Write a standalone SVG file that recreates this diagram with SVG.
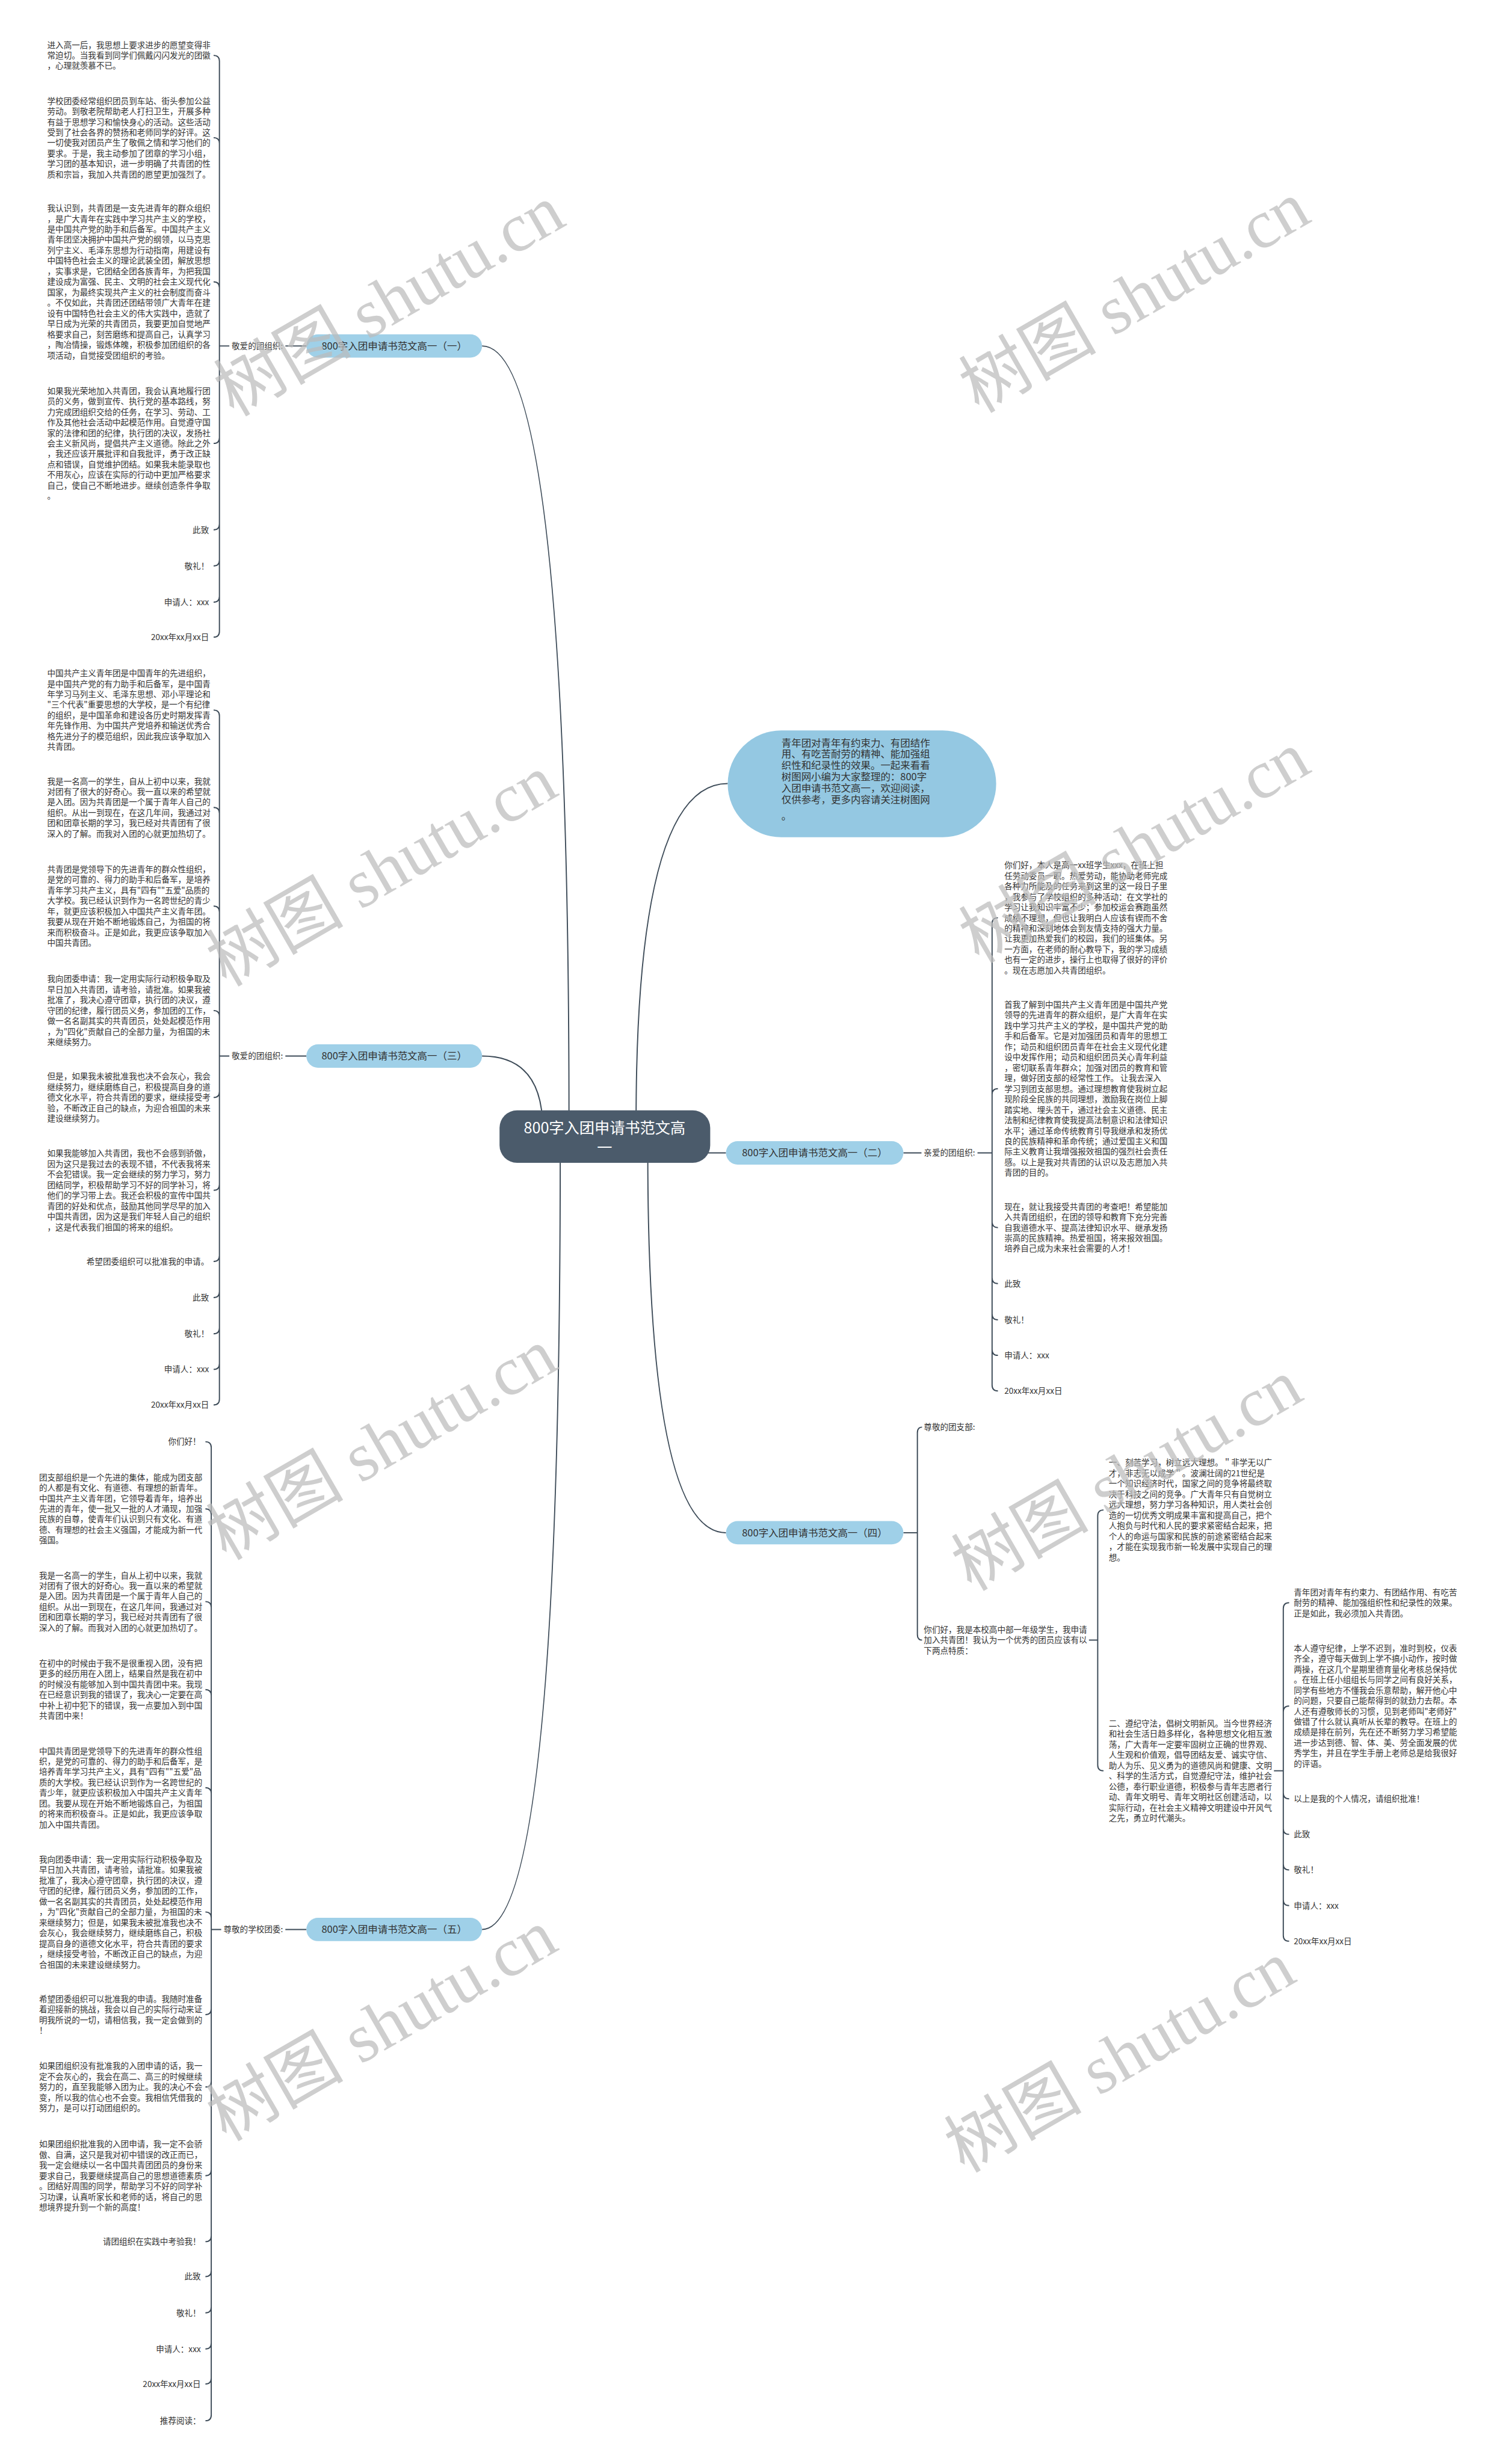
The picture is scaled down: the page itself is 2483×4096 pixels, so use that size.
<svg xmlns="http://www.w3.org/2000/svg" width="2483" height="4096" viewBox="0 0 2483 4096">
<style>
.t{font-family:"Noto Sans CJK SC","Noto Sans",sans-serif;font-size:14px;fill:#333}
.r{text-anchor:end}
.n{font-family:"Noto Sans CJK SC","Noto Sans",sans-serif;font-size:17px;fill:#333;text-anchor:middle}
.c{font-family:"Noto Sans CJK SC","Noto Sans",sans-serif;font-size:26px;fill:#fff;text-anchor:middle}
.b{font-family:"Noto Sans CJK SC","Noto Sans",sans-serif;font-size:17px;fill:#333}
.l{fill:none;stroke:#3d4b58;stroke-width:2}
.p{fill:#9fd0e8}
.w{font-family:"Liberation Serif","Noto Sans CJK SC",serif;font-size:118px;fill:#bcbcbc;opacity:0.72;text-anchor:middle}
</style>
<rect width="2483" height="4096" fill="#fff"/>
<g transform="scale(0.9699)">
<g id="connectors">
<path class="l" d="M975 1920 Q975 593 826 593"/>
<path class="l" d="M930 1935 Q930 1810 826 1810"/>
<path class="l" d="M960 1975 Q960 3307 826 3307"/>
<path class="l" d="M1090 1920 Q1090 1343 1247 1343"/>
<path class="l" d="M1200 1976 L1244 1976"/>
<path class="l" d="M1110 1975 Q1110 2627 1244 2627"/>
<!-- (一) -->
<path class="l" d="M525 593 H489 M393 593 H376"/>
<path class="l" d="M376 593 V105 Q376 95 366 95 M376 593 V246 Q376 236 366 236 M376 593 V493 Q376 483 366 483 M376 593 V750 Q376 760 366 760 M376 593 V898 Q376 908 366 908 M376 593 V960 Q376 970 366 970 M376 593 V1022 Q376 1032 366 1032 M376 593 V1082 Q376 1092 366 1092"/>
<!-- (三) -->
<path class="l" d="M525 1810 H489 M393 1810 H376"/>
<path class="l" d="M376 1810 V1227 Q376 1217 366 1217 M376 1810 V1394 Q376 1384 366 1384 M376 1810 V1563 Q376 1553 366 1553 M376 1810 V1742 Q376 1732 366 1732 M376 1810 V1871 Q376 1881 366 1881 M376 1810 V2030 Q376 2040 366 2040 M376 1810 V2152 Q376 2162 366 2162 M376 1810 V2214 Q376 2224 366 2224 M376 1810 V2276 Q376 2286 366 2286 M376 1810 V2337 Q376 2347 366 2347 M376 1810 V2398 Q376 2408 366 2408"/>
<!-- (五) -->
<path class="l" d="M525 3307 H489 M379 3307 H362"/>
<path class="l" d="M362 3307 V2481 Q362 2471 352 2471 M362 3307 V2596 Q362 2586 352 2586 M362 3307 V2755 Q362 2745 352 2745 M362 3307 V2906 Q362 2896 352 2896 M362 3307 V3074 Q362 3064 352 3064 M362 3307 V3287 Q362 3277 352 3277 M362 3307 V3443 Q362 3453 352 3453 M362 3307 V3567 Q362 3577 352 3577 M362 3307 V3719 Q362 3729 352 3729 M362 3307 V3832 Q362 3842 352 3842 M362 3307 V3892 Q362 3902 352 3902 M362 3307 V3954 Q362 3964 352 3964 M362 3307 V4016 Q362 4026 352 4026 M362 3307 V4076 Q362 4086 352 4086 M362 3307 V4139 Q362 4149 352 4149"/>
<!-- (二) -->
<path class="l" d="M1548 1976 H1579 M1675 1976 H1700"/>
<path class="l" d="M1700 1976 V1583 Q1700 1573 1710 1573 M1700 1976 V1876 Q1700 1866 1710 1866 M1700 1976 V2094 Q1700 2104 1710 2104 M1700 1976 V2190 Q1700 2200 1710 2200 M1700 1976 V2252 Q1700 2262 1710 2262 M1700 1976 V2313 Q1700 2323 1710 2323 M1700 1976 V2374 Q1700 2384 1710 2384"/>
<!-- (四) -->
<path class="l" d="M1548 2627 H1572"/>
<path class="l" d="M1572 2627 V2456 Q1572 2446 1580 2446 M1572 2627 V2801 Q1572 2811 1580 2811"/>
<path class="l" d="M1866 2811 H1881"/>
<path class="l" d="M1881 2811 V2598 Q1881 2588 1891 2588 M1881 2811 V3025 Q1881 3035 1891 3035"/>
<path class="l" d="M2183 3035 H2199"/>
<path class="l" d="M2199 3035 V2757 Q2199 2747 2209 2747 M2199 3035 V2934 Q2199 2924 2209 2924 M2199 3035 V3073 Q2199 3083 2209 3083 M2199 3035 V3134 Q2199 3144 2209 3144 M2199 3035 V3195 Q2199 3205 2209 3205 M2199 3035 V3256 Q2199 3266 2209 3266 M2199 3035 V3317 Q2199 3327 2209 3327"/>
</g>

<g id="central">
<rect x="856" y="1903" width="361" height="90" rx="30" fill="#4b5b6b"/>
<text class="c" x="1036" y="1942">800字入团申请书范文高</text>
<text class="c" x="1036" y="1977">一</text>
</g>

<g id="intro">
<rect x="1247" y="1252" width="460" height="183" rx="91.5" fill="#94c8e2"/>
<text class="b" x="1339" y="1279"><tspan x="1339" dy="0">青年团对青年有约束力、有团结作</tspan><tspan x="1339" dy="19.5">用、有吃苦耐劳的精神、能加强组</tspan><tspan x="1339" dy="19.5">织性和纪录性的效果。一起来看看</tspan><tspan x="1339" dy="19.5">树图网小编为大家整理的：800字</tspan><tspan x="1339" dy="19.5">入团申请书范文高一，欢迎阅读，</tspan><tspan x="1339" dy="19.5">仅供参考，更多内容请关注树图网</tspan><tspan x="1339" dy="28">。</tspan></text>
</g>

<g id="n1">
<rect class="p" x="525" y="573" width="301" height="40" rx="20"/>
<text class="n" x="675.5" y="599">800字入团申请书范文高一（一）</text>
</g>
<g id="n1-label"><text class="t" x="397" y="598">敬爱的团组织:</text></g>
<g id="n1-items">
<text class="t" x="81" y="82"><tspan x="81" dy="0">进入高一后，我思想上要求进步的愿望变得非</tspan><tspan x="81" dy="18">常迫切。当我看到同学们佩戴闪闪发光的团徽</tspan><tspan x="81" dy="18">，心理就羡慕不已。</tspan></text>
<text class="t" x="81" y="178"><tspan x="81" dy="0">学校团委经常组织团员到车站、街头参加公益</tspan><tspan x="81" dy="18">劳动。到敬老院帮助老人打扫卫生，开展多种</tspan><tspan x="81" dy="18">有益于思想学习和愉快身心的活动。这些活动</tspan><tspan x="81" dy="18">受到了社会各界的赞扬和老师同学的好评。这</tspan><tspan x="81" dy="18">一切使我对团员产生了敬佩之情和学习他们的</tspan><tspan x="81" dy="18">要求。于是，我主动参加了团章的学习小组，</tspan><tspan x="81" dy="18">学习团的基本知识，进一步明确了共青团的性</tspan><tspan x="81" dy="18">质和宗旨，我加入共青团的愿望更加强烈了。</tspan></text>
<text class="t" x="81" y="362"><tspan x="81" dy="0">我认识到，共青团是一支先进青年的群众组织</tspan><tspan x="81" dy="18">，是广大青年在实践中学习共产主义的学校，</tspan><tspan x="81" dy="18">是中国共产党的助手和后备军。中国共产主义</tspan><tspan x="81" dy="18">青年团坚决拥护中国共产党的纲领，以马克思</tspan><tspan x="81" dy="18">列宁主义、毛泽东思想为行动指南，用建设有</tspan><tspan x="81" dy="18">中国特色社会主义的理论武装全团，解放思想</tspan><tspan x="81" dy="18">，实事求是，它团结全团各族青年，为把我国</tspan><tspan x="81" dy="18">建设成为富强、民主、文明的社会主义现代化</tspan><tspan x="81" dy="18">国家，为最终实现共产主义的社会制度而奋斗</tspan><tspan x="81" dy="18">。不仅如此，共青团还团结带领广大青年在建</tspan><tspan x="81" dy="18">设有中国特色社会主义的伟大实践中，造就了</tspan><tspan x="81" dy="18">早日成为光荣的共青团员，我要更加自觉地严</tspan><tspan x="81" dy="18">格要求自己，刻苦磨练和提高自己，认真学习</tspan><tspan x="81" dy="18">，陶冶情操，锻炼体魄，积极参加团组织的各</tspan><tspan x="81" dy="18">项活动，自觉接受团组织的考验。</tspan></text>
<text class="t" x="81" y="675"><tspan x="81" dy="0">如果我光荣地加入共青团，我会认真地履行团</tspan><tspan x="81" dy="18">员的义务，做到宣传、执行党的基本路线，努</tspan><tspan x="81" dy="18">力完成团组织交给的任务，在学习、劳动、工</tspan><tspan x="81" dy="18">作及其他社会活动中起模范作用。自觉遵守国</tspan><tspan x="81" dy="18">家的法律和团的纪律，执行团的决议，发扬社</tspan><tspan x="81" dy="18">会主义新风尚，提倡共产主义道德。除此之外</tspan><tspan x="81" dy="18">，我还应该开展批评和自我批评，勇于改正缺</tspan><tspan x="81" dy="18">点和错误，自觉维护团结。如果我未能录取也</tspan><tspan x="81" dy="18">不用灰心，应该在实际的行动中更加严格要求</tspan><tspan x="81" dy="18">自己，使自己不断地进步。继续创造条件争取</tspan><tspan x="81" dy="18">。</tspan></text>
<text class="t r" x="358" y="913">此致</text>
<text class="t r" x="358" y="975">敬礼！</text>
<text class="t r" x="358" y="1037">申请人：xxx</text>
<text class="t r" x="358" y="1097">20xx年xx月xx日</text>
</g>

<g id="n3">
<rect class="p" x="525" y="1790" width="301" height="40" rx="20"/>
<text class="n" x="675.5" y="1816">800字入团申请书范文高一（三）</text>
</g>
<g id="n3-label"><text class="t" x="397" y="1815">敬爱的团组织:</text></g>
<g id="n3-items">
<text class="t" x="81" y="1159"><tspan x="81" dy="0">中国共产主义青年团是中国青年的先进组织，</tspan><tspan x="81" dy="18">是中国共产党的有力助手和后备军，是中国青</tspan><tspan x="81" dy="18">年学习马列主义、毛泽东思想、邓小平理论和</tspan><tspan x="81" dy="18">"三个代表"重要思想的大学校，是一个有纪律</tspan><tspan x="81" dy="18">的组织，是中国革命和建设各历史时期发挥青</tspan><tspan x="81" dy="18">年先锋作用、为中国共产党培养和输送优秀合</tspan><tspan x="81" dy="18">格先进分子的模范组织，因此我应该争取加入</tspan><tspan x="81" dy="18">共青团。</tspan></text>
<text class="t" x="81" y="1344"><tspan x="81" dy="0">我是一名高一的学生，自从上初中以来，我就</tspan><tspan x="81" dy="18">对团有了很大的好奇心。我一直以来的希望就</tspan><tspan x="81" dy="18">是入团。因为共青团是一个属于青年人自己的</tspan><tspan x="81" dy="18">组织。从出一到现在，在这几年间，我通过对</tspan><tspan x="81" dy="18">团和团章长期的学习，我已经对共青团有了很</tspan><tspan x="81" dy="18">深入的了解。而我对入团的心就更加热切了。</tspan></text>
<text class="t" x="81" y="1495"><tspan x="81" dy="0">共青团是党领导下的先进青年的群众性组织，</tspan><tspan x="81" dy="18">是党的可靠的、得力的助手和后备军，是培养</tspan><tspan x="81" dy="18">青年学习共产主义，具有"四有""五爱"品质的</tspan><tspan x="81" dy="18">大学校。我已经认识到作为一名跨世纪的青少</tspan><tspan x="81" dy="18">年，就更应该积极加入中国共产主义青年团。</tspan><tspan x="81" dy="18">我要从现在开始不断地锻炼自己，为祖国的将</tspan><tspan x="81" dy="18">来而积极奋斗。正是如此，我更应该争取加入</tspan><tspan x="81" dy="18">中国共青团。</tspan></text>
<text class="t" x="81" y="1683"><tspan x="81" dy="0">我向团委申请：我一定用实际行动积极争取及</tspan><tspan x="81" dy="18">早日加入共青团，请考验，请批准。如果我被</tspan><tspan x="81" dy="18">批准了，我决心遵守团章，执行团的决议，遵</tspan><tspan x="81" dy="18">守团的纪律，履行团员义务，参加团的工作，</tspan><tspan x="81" dy="18">做一名名副其实的共青团员，处处起模范作用</tspan><tspan x="81" dy="18">，为"四化"贡献自己的全部力量，为祖国的未</tspan><tspan x="81" dy="18">来继续努力。</tspan></text>
<text class="t" x="81" y="1850"><tspan x="81" dy="0">但是，如果我未被批准我也决不会灰心，我会</tspan><tspan x="81" dy="18">继续努力，继续磨练自己，积极提高自身的道</tspan><tspan x="81" dy="18">德文化水平，符合共青团的要求，继续接受考</tspan><tspan x="81" dy="18">验，不断改正自己的缺点，为迎合祖国的未来</tspan><tspan x="81" dy="18">建设继续努力。</tspan></text>
<text class="t" x="81" y="1982"><tspan x="81" dy="0">如果我能够加入共青团，我也不会感到骄傲，</tspan><tspan x="81" dy="18">因为这只是我过去的表现不错，不代表我将来</tspan><tspan x="81" dy="18">不会犯错误。我一定会继续的努力学习，努力</tspan><tspan x="81" dy="18">团结同学，积极帮助学习不好的同学补习，将</tspan><tspan x="81" dy="18">他们的学习带上去。我还会积极的宣传中国共</tspan><tspan x="81" dy="18">青团的好处和优点，鼓励其他同学尽早的加入</tspan><tspan x="81" dy="18">中国共青团，因为这是我们年轻人自己的组织</tspan><tspan x="81" dy="18">，这是代表我们祖国的将来的组织。</tspan></text>
<text class="t r" x="358" y="2167">希望团委组织可以批准我的申请。</text>
<text class="t r" x="358" y="2229">此致</text>
<text class="t r" x="358" y="2291">敬礼！</text>
<text class="t r" x="358" y="2352">申请人：xxx</text>
<text class="t r" x="358" y="2413">20xx年xx月xx日</text>
</g>

<g id="n5">
<rect class="p" x="525" y="3287" width="301" height="40" rx="20"/>
<text class="n" x="675.5" y="3313">800字入团申请书范文高一（五）</text>
</g>
<g id="n5-label"><text class="t" x="383" y="3312">尊敬的学校团委:</text></g>
<g id="n5-items">
<text class="t r" x="344" y="2476">你们好！</text>
<text class="t" x="67" y="2537"><tspan x="67" dy="0">团支部组织是一个先进的集体，能成为团支部</tspan><tspan x="67" dy="18">的人都是有文化、有道德、有理想的新青年。</tspan><tspan x="67" dy="18">中国共产主义青年团，它领导着青年，培养出</tspan><tspan x="67" dy="18">先进的青年，使一批又一批的人才涌现，加强</tspan><tspan x="67" dy="18">民族的自尊，使青年们认识到只有文化、有道</tspan><tspan x="67" dy="18">德、有理想的社会主义强国，才能成为新一代</tspan><tspan x="67" dy="18">强国。</tspan></text>
<text class="t" x="67" y="2705"><tspan x="67" dy="0">我是一名高一的学生，自从上初中以来，我就</tspan><tspan x="67" dy="18">对团有了很大的好奇心。我一直以来的希望就</tspan><tspan x="67" dy="18">是入团。因为共青团是一个属于青年人自己的</tspan><tspan x="67" dy="18">组织。从出一到现在，在这几年间，我通过对</tspan><tspan x="67" dy="18">团和团章长期的学习，我已经对共青团有了很</tspan><tspan x="67" dy="18">深入的了解。而我对入团的心就更加热切了。</tspan></text>
<text class="t" x="67" y="2856"><tspan x="67" dy="0">在初中的时候由于我不是很重视入团，没有把</tspan><tspan x="67" dy="18">更多的经历用在入团上，结果自然是我在初中</tspan><tspan x="67" dy="18">的时候没有能够加入到中国共青团中来。我现</tspan><tspan x="67" dy="18">在已经意识到我的错误了，我决心一定要在高</tspan><tspan x="67" dy="18">中补上初中犯下的错误，我一点要加入到中国</tspan><tspan x="67" dy="18">共青团中来！</tspan></text>
<text class="t" x="67" y="3006"><tspan x="67" dy="0">中国共青团是党领导下的先进青年的群众性组</tspan><tspan x="67" dy="18">织，是党的可靠的、得力的助手和后备军，是</tspan><tspan x="67" dy="18">培养青年学习共产主义，具有"四有""五爱"品</tspan><tspan x="67" dy="18">质的大学校。我已经认识到作为一名跨世纪的</tspan><tspan x="67" dy="18">青少年，就更应该积极加入中国共产主义青年</tspan><tspan x="67" dy="18">团。我要从现在开始不断地锻炼自己，为祖国</tspan><tspan x="67" dy="18">的将来而积极奋斗。正是如此，我更应该争取</tspan><tspan x="67" dy="18">加入中国共青团。</tspan></text>
<text class="t" x="67" y="3192"><tspan x="67" dy="0">我向团委申请：我一定用实际行动积极争取及</tspan><tspan x="67" dy="18">早日加入共青团，请考验，请批准。如果我被</tspan><tspan x="67" dy="18">批准了，我决心遵守团章，执行团的决议，遵</tspan><tspan x="67" dy="18">守团的纪律，履行团员义务，参加团的工作，</tspan><tspan x="67" dy="18">做一名名副其实的共青团员，处处起模范作用</tspan><tspan x="67" dy="18">，为"四化"贡献自己的全部力量，为祖国的未</tspan><tspan x="67" dy="18">来继续努力；但是，如果我未被批准我也决不</tspan><tspan x="67" dy="18">会灰心，我会继续努力，继续磨练自己，积极</tspan><tspan x="67" dy="18">提高自身的道德文化水平，符合共青团的要求</tspan><tspan x="67" dy="18">，继续接受考验，不断改正自己的缺点，为迎</tspan><tspan x="67" dy="18">合祖国的未来建设继续努力。</tspan></text>
<text class="t" x="67" y="3431"><tspan x="67" dy="0">希望团委组织可以批准我的申请。我随时准备</tspan><tspan x="67" dy="18">着迎接新的挑战，我会以自己的实际行动来证</tspan><tspan x="67" dy="18">明我所说的一切，请相信我，我一定会做到的</tspan><tspan x="67" dy="18">！</tspan></text>
<text class="t" x="67" y="3546"><tspan x="67" dy="0">如果团组织没有批准我的入团申请的话，我一</tspan><tspan x="67" dy="18">定不会灰心的，我会在高二、高三的时候继续</tspan><tspan x="67" dy="18">努力的，直至我能够入团为止。我的决心不会</tspan><tspan x="67" dy="18">变，所以我的信心也不会变。我相信凭借我的</tspan><tspan x="67" dy="18">努力，是可以打动团组织的。</tspan></text>
<text class="t" x="67" y="3680"><tspan x="67" dy="0">如果团组织批准我的入团申请，我一定不会骄</tspan><tspan x="67" dy="18">傲、自满，这只是我对初中错误的改正而已，</tspan><tspan x="67" dy="18">我一定会继续以一名中国共青团团员的身份来</tspan><tspan x="67" dy="18">要求自己，我要继续提高自己的思想道德素质</tspan><tspan x="67" dy="18">。团结好周围的同学，帮助学习不好的同学补</tspan><tspan x="67" dy="18">习功课，认真听家长和老师的话，将自己的思</tspan><tspan x="67" dy="18">想境界提升到一个新的高度！</tspan></text>
<text class="t r" x="344" y="3847">请团组织在实践中考验我！</text>
<text class="t r" x="344" y="3907">此致</text>
<text class="t r" x="344" y="3969">敬礼！</text>
<text class="t r" x="344" y="4031">申请人：xxx</text>
<text class="t r" x="344" y="4091">20xx年xx月xx日</text>
<text class="t r" x="344" y="4154">推荐阅读：</text>
</g>

<g id="n2">
<rect class="p" x="1244" y="1956" width="304" height="40" rx="20"/>
<text class="n" x="1396" y="1982">800字入团申请书范文高一（二）</text>
</g>
<g id="n2-label"><text class="t" x="1583" y="1981">亲爱的团组织:</text></g>
<g id="n2-items">
<text class="t" x="1721" y="1488"><tspan x="1721" dy="0">你们好，本人是高一xx班学生xxx，在班上担</tspan><tspan x="1721" dy="18">任劳动委员一职。热爱劳动，能协助老师完成</tspan><tspan x="1721" dy="18">各种力所能及的任务来到这里的这一段日子里</tspan><tspan x="1721" dy="18">，我参与了学校组织的多种活动：在文学社的</tspan><tspan x="1721" dy="18">学习让我知识丰富不少；参加校运会赛跑虽然</tspan><tspan x="1721" dy="18">成绩不理想，但也让我明白人应该有锲而不舍</tspan><tspan x="1721" dy="18">的精神和深刻地体会到友情支持的强大力量。</tspan><tspan x="1721" dy="18">让我更加热爱我们的校园，我们的班集体。另</tspan><tspan x="1721" dy="18">一方面，在老师的耐心教导下，我的学习成绩</tspan><tspan x="1721" dy="18">也有一定的进步，操行上也取得了很好的评价</tspan><tspan x="1721" dy="18">。现在志愿加入共青团组织。</tspan></text>
<text class="t" x="1721" y="1727"><tspan x="1721" dy="0">首我了解到中国共产主义青年团是中国共产党</tspan><tspan x="1721" dy="18">领导的先进青年的群众组织，是广大青年在实</tspan><tspan x="1721" dy="18">践中学习共产主义的学校，是中国共产党的助</tspan><tspan x="1721" dy="18">手和后备军。它是对加强团员和青年的思想工</tspan><tspan x="1721" dy="18">作；动员和组织团员青年在社会主义现代化建</tspan><tspan x="1721" dy="18">设中发挥作用；动员和组织团员关心青年利益</tspan><tspan x="1721" dy="18">，密切联系青年群众；加强对团员的教育和管</tspan><tspan x="1721" dy="18">理，做好团支部的经常性工作。 让我去深入</tspan><tspan x="1721" dy="18">学习到团支部思想。通过理想教育使我树立起</tspan><tspan x="1721" dy="18">现阶段全民族的共同理想，激励我在岗位上脚</tspan><tspan x="1721" dy="18">踏实地、埋头苦干，通过社会主义道德、民主</tspan><tspan x="1721" dy="18">法制和纪律教育使我提高法制意识和法律知识</tspan><tspan x="1721" dy="18">水平；通过革命传统教育引导我继承和发扬优</tspan><tspan x="1721" dy="18">良的民族精神和革命传统；通过爱国主义和国</tspan><tspan x="1721" dy="18">际主义教育让我增强报效祖国的强烈社会责任</tspan><tspan x="1721" dy="18">感。以上是我对共青团的认识以及志愿加入共</tspan><tspan x="1721" dy="18">青团的目的。</tspan></text>
<text class="t" x="1721" y="2073"><tspan x="1721" dy="0">现在，就让我接受共青团的考查吧！希望能加</tspan><tspan x="1721" dy="18">入共青团组织，在团的领导和教育下充分完善</tspan><tspan x="1721" dy="18">自我道德水平、提高法律知识水平、继承发扬</tspan><tspan x="1721" dy="18">崇高的民族精神。热爱祖国，将来报效祖国。</tspan><tspan x="1721" dy="18">培养自己成为未来社会需要的人才！</tspan></text>
<text class="t" x="1721" y="2205">此致</text>
<text class="t" x="1721" y="2267">敬礼！</text>
<text class="t" x="1721" y="2328">申请人：xxx</text>
<text class="t" x="1721" y="2389">20xx年xx月xx日</text>
</g>

<g id="n4">
<rect class="p" x="1244" y="2607" width="304" height="40" rx="20"/>
<text class="n" x="1396" y="2633">800字入团申请书范文高一（四）</text>
</g>
<g id="n4-items">
<text class="t" x="1583" y="2451">尊敬的团支部:</text>
<text class="t" x="1583" y="2798"><tspan x="1583" dy="0">你们好，我是本校高中部一年级学生，我申请</tspan><tspan x="1583" dy="18">加入共青团！我认为一个优秀的团员应该有以</tspan><tspan x="1583" dy="18">下两点特质：</tspan></text>
<text class="t" x="1900" y="2512"><tspan x="1900" dy="0">一、刻苦学习，树立远大理想。＂非学无以广</tspan><tspan x="1900" dy="18">才，非志无以成学＂。波澜壮阔的21世纪是</tspan><tspan x="1900" dy="18">一个知识经济时代，国家之间的竞争将最终取</tspan><tspan x="1900" dy="18">决于科技之间的竞争。广大青年只有自觉树立</tspan><tspan x="1900" dy="18">远大理想，努力学习各种知识，用人类社会创</tspan><tspan x="1900" dy="18">造的一切优秀文明成果丰富和提高自己，把个</tspan><tspan x="1900" dy="18">人抱负与时代和人民的要求紧密结合起来，把</tspan><tspan x="1900" dy="18">个人的命运与国家和民族的前途紧密结合起来</tspan><tspan x="1900" dy="18">，才能在实现我市新一轮发展中实现自己的理</tspan><tspan x="1900" dy="18">想。</tspan></text>
<text class="t" x="1900" y="2959"><tspan x="1900" dy="0">二、遵纪守法，倡树文明新风。当今世界经济</tspan><tspan x="1900" dy="18">和社会生活日趋多样化，各种思想文化相互激</tspan><tspan x="1900" dy="18">荡，广大青年一定要牢固树立正确的世界观、</tspan><tspan x="1900" dy="18">人生观和价值观，倡导团结友爱、诚实守信、</tspan><tspan x="1900" dy="18">助人为乐、见义勇为的道德风尚和健康、文明</tspan><tspan x="1900" dy="18">、科学的生活方式，自觉遵纪守法，维护社会</tspan><tspan x="1900" dy="18">公德，奉行职业道德，积极参与青年志愿者行</tspan><tspan x="1900" dy="18">动、青年文明号、青年文明社区创建活动，以</tspan><tspan x="1900" dy="18">实际行动，在社会主义精神文明建设中开风气</tspan><tspan x="1900" dy="18">之先，勇立时代潮头。</tspan></text>
<text class="t" x="2217" y="2734"><tspan x="2217" dy="0">青年团对青年有约束力、有团结作用、有吃苦</tspan><tspan x="2217" dy="18">耐劳的精神、能加强组织性和纪录性的效果。</tspan><tspan x="2217" dy="18">正是如此，我必须加入共青团。</tspan></text>
<text class="t" x="2217" y="2830"><tspan x="2217" dy="0">本人遵守纪律，上学不迟到，准时到校，仪表</tspan><tspan x="2217" dy="18">齐全，遵守每天做到上学不搞小动作，按时做</tspan><tspan x="2217" dy="18">两操，在这几个星期里德育量化考核总保持优</tspan><tspan x="2217" dy="18">。在班上任小组组长与同学之间有良好关系，</tspan><tspan x="2217" dy="18">同学有些地方不懂我会乐意帮助，解开他心中</tspan><tspan x="2217" dy="18">的问题，只要自己能帮得到的就劲力去帮。本</tspan><tspan x="2217" dy="18">人还有遵敬师长的习惯，见到老师叫"老师好"</tspan><tspan x="2217" dy="18">做错了什么就认真听从长辈的教导。在班上的</tspan><tspan x="2217" dy="18">成绩是排在前列，先在还不断努力学习希望能</tspan><tspan x="2217" dy="18">进一步达到德、智、体、美、劳全面发展的优</tspan><tspan x="2217" dy="18">秀学生，并且在学生手册上老师总是给我很好</tspan><tspan x="2217" dy="18">的评语。</tspan></text>
<text class="t" x="2217" y="3088">以上是我的个人情况，请组织批准！</text>
<text class="t" x="2217" y="3149">此致</text>
<text class="t" x="2217" y="3210">敬礼！</text>
<text class="t" x="2217" y="3271">申请人：xxx</text>
<text class="t" x="2217" y="3332">20xx年xx月xx日</text>
</g>

<g id="watermarks">
<text class="w" x="668" y="555" transform="rotate(-30 668 517)">树图 shutu.cn</text>
<text class="w" x="1945" y="549" transform="rotate(-30 1945 511)">树图 shutu.cn</text>
<text class="w" x="655" y="1532" transform="rotate(-30 655 1494)">树图 shutu.cn</text>
<text class="w" x="1945" y="1492" transform="rotate(-30 1945 1454)">树图 shutu.cn</text>
<text class="w" x="655" y="2515" transform="rotate(-30 655 2477)">树图 shutu.cn</text>
<text class="w" x="1932" y="2568" transform="rotate(-30 1932 2530)">树图 shutu.cn</text>
<text class="w" x="655" y="3511" transform="rotate(-30 655 3473)">树图 shutu.cn</text>
<text class="w" x="1920" y="3565" transform="rotate(-30 1920 3527)">树图 shutu.cn</text>
</g>
</g>
</svg>
